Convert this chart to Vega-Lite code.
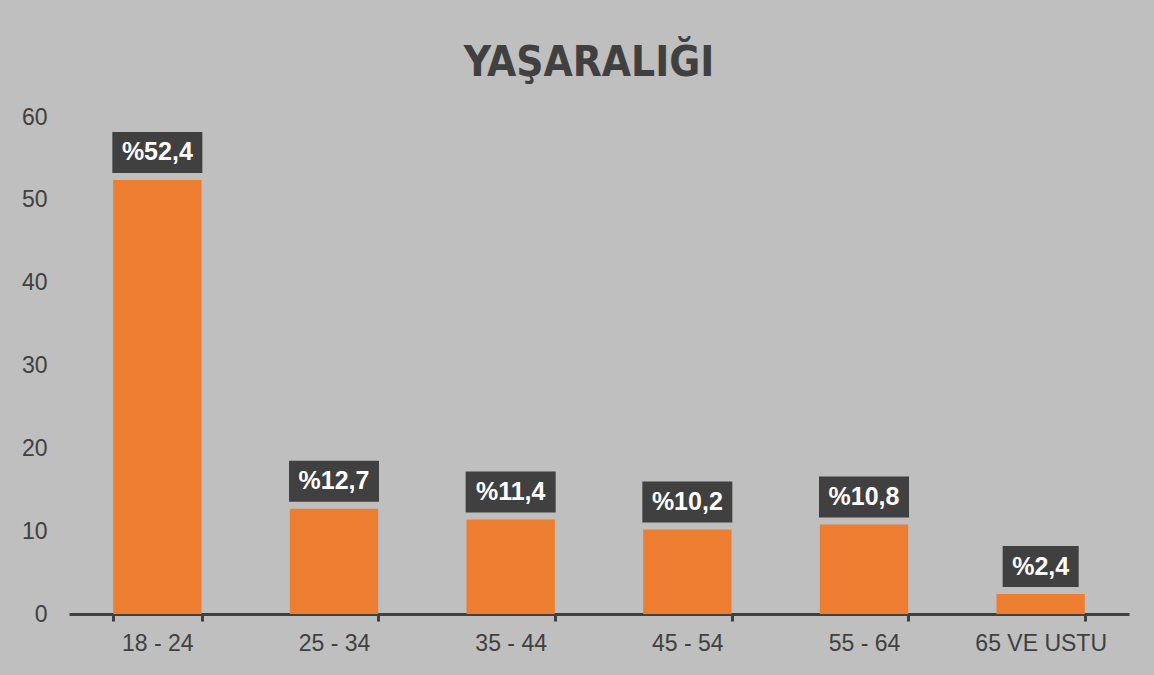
{
  "$schema": "https://vega.github.io/schema/vega-lite/v6.json",
  "autosize": "none",
  "width": 1060,
  "height": 497,
  "padding": {"left": 69, "top": 117, "right": 25, "bottom": 61},
  "background": "#BFBFBF",
  "config": {"view": {"stroke": null}},
  "title": {
    "text": "YAŞARALIĞI",
    "font": "DejaVu Sans Condensed, sans-serif",
    "fontSize": 42,
    "fontWeight": "bold",
    "color": "#404040",
    "anchor": "middle",
    "baseline": "alphabetic",
    "offset": -12,
    "dx": -10
  },
  "data": {
    "values": [
      {"group": "18 - 24", "value": 52.4},
      {"group": "25 - 34", "value": 12.7},
      {"group": "35 - 44", "value": 11.4},
      {"group": "45 - 54", "value": 10.2},
      {"group": "55 - 64", "value": 10.8},
      {"group": "65 VE USTU", "value": 2.4}
    ]
  },
  "encoding": {
    "x": {
      "field": "group",
      "type": "nominal",
      "sort": null,
      "scale": {"paddingInner": 0.5, "paddingOuter": 0.25},
      "axis": {
        "title": null,
        "labelAngle": 0,
        "labelFont": "Liberation Sans",
        "labelFontSize": 23,
        "labelColor": "#404040",
        "labelPadding": 11,
        "domainColor": "#404040",
        "domainWidth": 3,
        "tickColor": "#404040",
        "tickWidth": 3,
        "tickSize": 7,
        "tickBand": "extent",
        "grid": false
      }
    },
    "y": {
      "field": "value",
      "type": "quantitative",
      "scale": {"domain": [0, 60], "nice": false},
      "axis": {
        "title": null,
        "values": [0, 10, 20, 30, 40, 50, 60],
        "labelFont": "Liberation Sans",
        "labelFontSize": 23,
        "labelColor": "#404040",
        "labelPadding": 22,
        "domain": false,
        "ticks": false,
        "grid": false
      }
    }
  },
  "layer": [
    {"mark": {"type": "bar", "color": "#ED7D31"}},
    {
      "mark": {"type": "tick", "orient": "horizontal", "color": "#404040", "opacity": 1, "thickness": 41, "yOffset": -27.5},
      "encoding": {
        "size": {"condition": {"test": "datum.value < 5", "value": 76}, "value": 90}
      }
    },
    {
      "mark": {
        "type": "text",
        "color": "#FFFFFF",
        "font": "Liberation Sans",
        "fontWeight": "bold",
        "fontSize": 25,
        "baseline": "middle",
        "align": "center",
        "dy": -27.5,
        "text": {"expr": "'%' + replace(format(datum.value, '.1f'), '.', ',')"}
      }
    }
  ]
}
